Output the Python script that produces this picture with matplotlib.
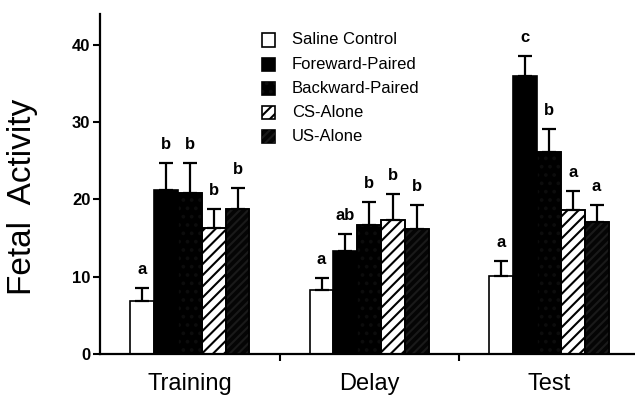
import numpy as np
import matplotlib
matplotlib.use("Agg")
import matplotlib.pyplot as plt
from matplotlib.patches import Rectangle

plt.rcParams["font.family"] = ["Liberation Sans", "DejaVu Sans"]
plt.rcParams["hatch.linewidth"] = 1.5

# ---- data ----
phases = ["Training", "Delay", "Test"]
groups = ["Saline Control", "Foreward-Paired", "Backward-Paired", "CS-Alone", "US-Alone"]

saline = [6.8, 8.3, 10.1]
forward = [21.2, 13.3, 36.0]
backward = [20.9, 16.7, 26.2]
cs_alone = [16.3, 17.3, 18.6]
us_alone = [18.8, 16.2, 17.1]

saline_err = [1.7, 1.6, 1.9]
forward_err = [3.5, 2.2, 2.6]
backward_err = [3.8, 3.0, 2.9]
cs_alone_err = [2.5, 3.4, 2.5]
us_alone_err = [2.7, 3.1, 2.2]

saline_sig = ["a", "a", "a"]
forward_sig = ["b", "ab", "c"]
backward_sig = ["b", "b", "b"]
cs_alone_sig = ["b", "b", "a"]
us_alone_sig = ["b", "b", "a"]

means = [saline, forward, backward, cs_alone, us_alone]
errs = [saline_err, forward_err, backward_err, cs_alone_err, us_alone_err]
sigs = [saline_sig, forward_sig, backward_sig, cs_alone_sig, us_alone_sig]

# style per group: (facecolor, hatch, hatch colour)
styles = [
    ("white", None, None),
    ("black", None, None),
    ("black", "..", "#0c0c0c"),
    ("white", "///", "black"),
    ("#050505", "////", "#1a1a1a"),
]

fig = plt.figure(figsize=(6.35, 3.97), dpi=100)
ax = fig.add_axes([100 / 635, 1 - 354 / 397, 1 - 100 / 635, (354 - 14) / 397])

x = np.arange(len(phases))
w = 0.133
for i, (vals, e, s, st) in enumerate(zip(means, errs, sigs, styles)):
    pos = x + (i - 2) * w
    fc, hatch, hc = st
    ax.bar(pos, vals, w, color=fc, edgecolor="black", linewidth=1.2, zorder=2)
    if hatch:
        ax.bar(pos, vals, w, fill=False, hatch=hatch, edgecolor=hc, linewidth=0, zorder=3)
        ax.bar(pos, vals, w, fill=False, edgecolor="black", linewidth=1.2, zorder=4)
    ax.errorbar(pos, vals, yerr=[np.zeros(len(vals)), e], fmt="none", ecolor="black",
                elinewidth=1.6, capsize=5, capthick=1.6, zorder=5)
    for p, v, er, lab in zip(pos, vals, e, s):
        ax.annotate(lab, (p, v + er), xytext=(0, 10), textcoords="offset points",
                    ha="center", va="baseline", fontsize=12, fontweight="bold")

ax.set_xlim(-0.5, 2.48)
ax.set_ylim(0, 44)
ax.set_yticks([0, 10, 20, 30, 40])
ax.set_xticks(x)
ax.set_xticklabels(phases, fontsize=17)
ax.set_xticks([0.5, 1.5], minor=True)
ax.tick_params(axis="x", which="major", length=0, pad=14)
ax.tick_params(axis="x", which="minor", length=5, width=1.5, direction="out")
ax.tick_params(axis="y", labelsize=12, length=5, width=1.5, pad=2)
for lbl in ax.get_yticklabels():
    lbl.set_fontweight("bold")
for side in ["top", "right"]:
    ax.spines[side].set_visible(False)
for side in ["left", "bottom"]:
    ax.spines[side].set_linewidth(1.6)

fig.text(23 / 635, 1 - 197 / 397, "Fetal  Activity", rotation=90, fontsize=24,
         ha="center", va="center")

# legend drawn by hand
for i, (name, st) in enumerate(zip(groups, styles)):
    yc = 40 + 24.2 * i
    fc, hatch, hc = st
    sq = Rectangle((262 / 635, 1 - (yc + 6.5) / 397), 13 / 635, 13 / 397,
                   transform=fig.transFigure, facecolor=fc, edgecolor="black",
                   linewidth=1.2)
    fig.patches.append(sq)
    if hatch:
        fig.patches.append(Rectangle((262 / 635, 1 - (yc + 6.5) / 397), 13 / 635, 13 / 397,
                                     transform=fig.transFigure, fill=False, hatch=hatch,
                                     edgecolor=hc, linewidth=0))
    fig.text(292 / 635, 1 - yc / 397, name, fontsize=12, ha="left", va="center")

fig.savefig("out.png", dpi=100)
